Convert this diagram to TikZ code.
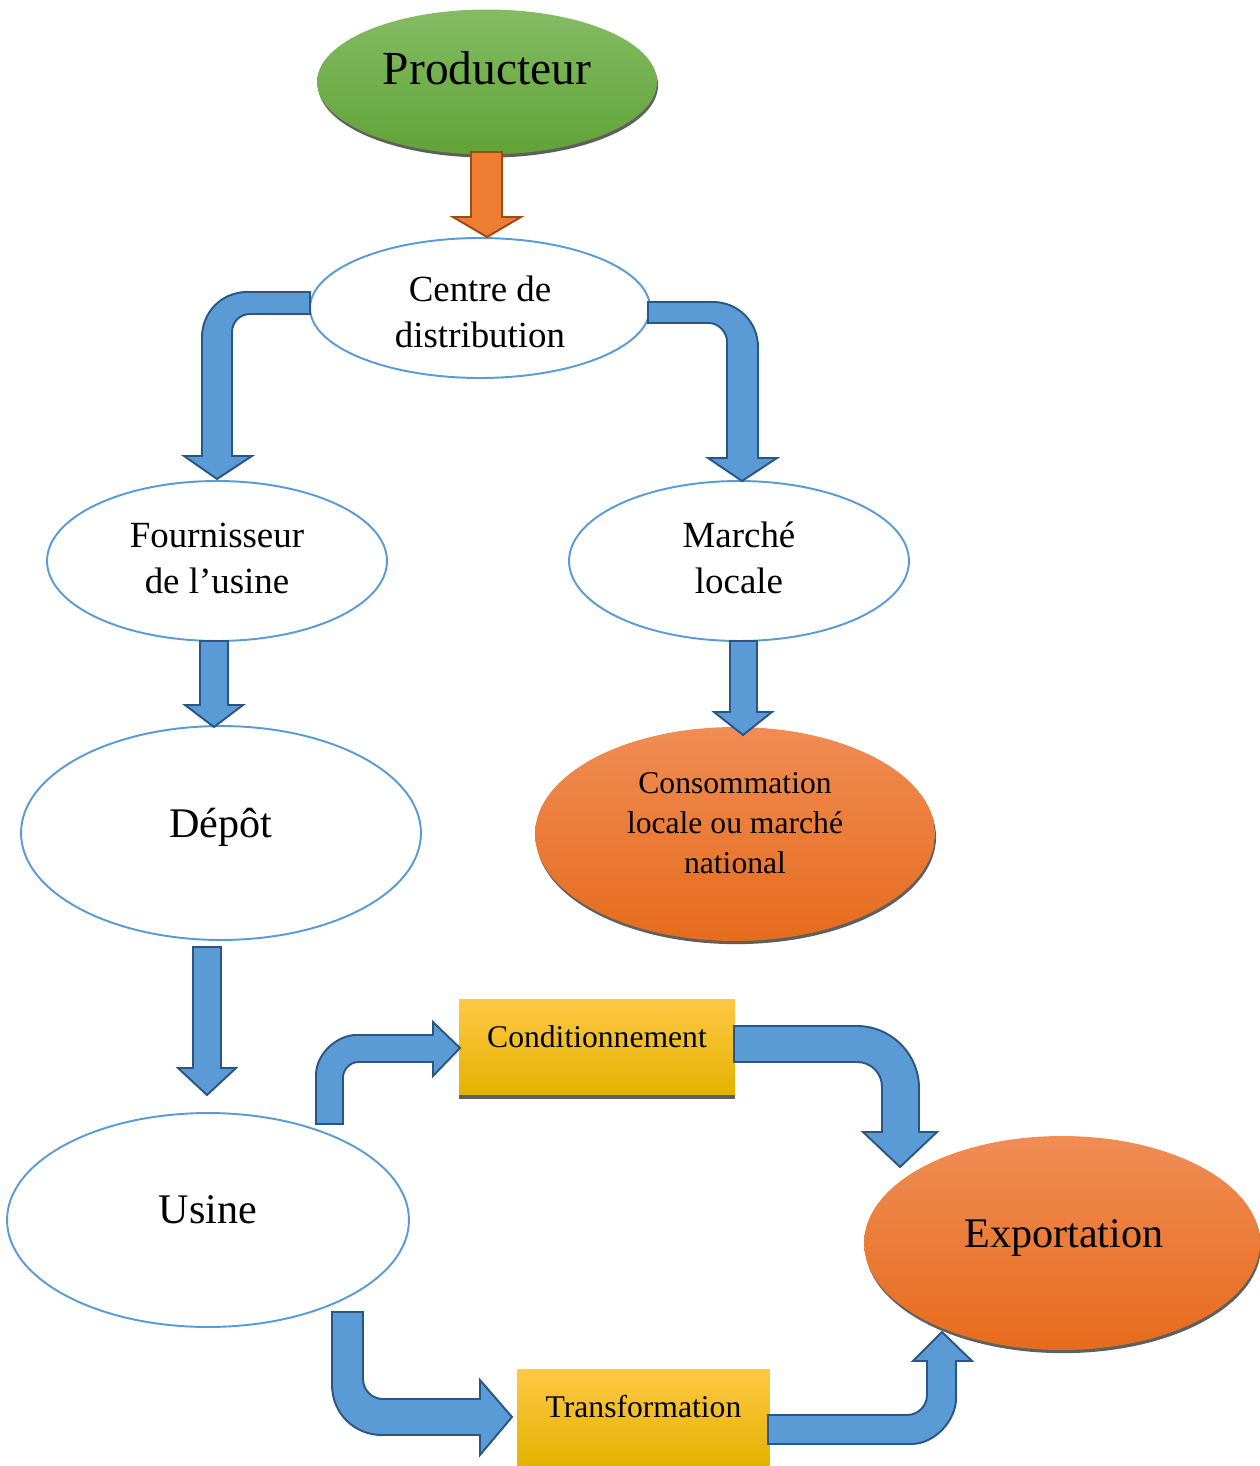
\documentclass[tikz,border=0pt]{standalone}
\usepackage{fontspec}
\setmainfont{Liberation Serif}
\usetikzlibrary{shapes.geometric,shadows}

\definecolor{ellblue}{HTML}{5B9BD5}
\definecolor{arrowblue}{HTML}{5B9BD5}
\definecolor{arrowedge}{HTML}{295684}
\definecolor{orangearrow}{HTML}{ED7D31}
\definecolor{orangeedge}{HTML}{9E4A14}
\definecolor{greentop}{HTML}{84BC64}
\definecolor{greenbot}{HTML}{60A337}
\definecolor{orangetop}{HTML}{F08C55}
\definecolor{orangemid}{HTML}{F47F2A}
\definecolor{orangebot}{HTML}{E66C1C}
\definecolor{goldtop}{HTML}{FFC845}
\definecolor{goldmid}{HTML}{FFC000}
\definecolor{goldbot}{HTML}{E3B300}
\definecolor{shadowgray}{HTML}{5F5F5F}

\tikzset{
  outlineell/.style={ellipse, draw=ellblue, line width=1.1pt, fill=white, inner sep=0pt},
  filledell/.style={ellipse, draw=none, inner sep=0pt,
    general shadow={fill=shadowgray, shadow xshift=0.6pt, shadow yshift=-1.8pt}},
  greenfill/.style={top color=greentop, bottom color=greenbot},
  orangefill/.style={top color=orangetop, middle color=orangemid, bottom color=orangebot},
  goldbox/.style={rectangle, draw=none, inner sep=0pt,
    top color=goldtop, middle color=goldmid, bottom color=goldbot},
  blockarrow/.style={fill=arrowblue, draw=arrowedge, line width=1.1pt, line join=miter},
  orangeblock/.style={fill=orangearrow, draw=orangeedge, line width=1.1pt, line join=miter},
  lbl/.style={anchor=base, align=center, inner sep=0pt},
  big/.style={font=\fontsize{27}{32}\selectfont},
  mid/.style={font=\fontsize{24}{29}\selectfont},
  med/.style={font=\fontsize{21}{26}\selectfont},
  small/.style={font=\fontsize{18}{22.5}\selectfont},
}

\begin{document}
\begin{tikzpicture}[x=0.02cm, y=-0.02cm]
\useasboundingbox (0,0) rectangle (1259,1466);

% ---- ellipses ----
\node[filledell, greenfill, minimum width=6.8cm, minimum height=2.9cm] (prod) at (487,82) {};
\node[outlineell, minimum width=6.8cm, minimum height=2.8cm] (centre) at (480,308) {};
\node[outlineell, minimum width=6.8cm, minimum height=3.2cm] (fourn) at (217,561) {};
\node[outlineell, minimum width=6.8cm, minimum height=3.2cm] (marche) at (739,561) {};
\node[outlineell, minimum width=8.0cm, minimum height=4.28cm] (depot) at (221,833) {};
\node[outlineell, minimum width=8.04cm, minimum height=4.28cm] (usine) at (208,1220) {};
\node[filledell, orangefill, minimum width=8.0cm, minimum height=4.28cm] (conso) at (735,834) {};
\node[filledell, orangefill, minimum width=7.92cm, minimum height=4.28cm] (export) at (1062,1243) {};

% ---- boxes ----
\fill[shadowgray] (459,1094) rectangle (735,1099);
\node[goldbox, minimum width=5.52cm, minimum height=1.9cm] (cond) at (597,1046.5) {};
\node[goldbox, minimum width=5.06cm, minimum height=1.94cm] (trans) at (643.5,1417.5) {};

% ---- labels (anchored on the baseline of the last line) ----
\node[lbl, big] (prodtxt) at (487,85) {Producteur};
\node[lbl, med] (centretxt) at (480,347) {Centre de\\distribution};
\node[lbl, med] (fourntxt) at (217,593) {Fournisseur\\de l’usine};
\node[lbl, med] (marchetxt) at (739,593) {Marché\\locale};
\node[lbl, mid] (depottxt) at (221,837) {Dépôt};
\node[lbl, mid] (usinetxt) at (208,1223) {Usine};
\node[lbl, small] (consotxt) at (735,873) {Consommation\\locale ou marché\\national};
\node[lbl, mid] (exporttxt) at (1064,1247) {Exportation};
\node[lbl, small] (condtxt) at (597,1047) {Conditionnement};
\node[lbl, small] (transtxt) at (643.5,1417) {Transformation};

% ---- straight block arrows ----
% Producteur -> Centre de distribution
\draw[orangeblock] (471,152) -- (471,217) -- (453,217) -- (487,237) -- (521,217)
  -- (502,217) -- (502,152) -- cycle;
% Fournisseur -> Depot
\draw[blockarrow] (200,641) -- (200,705) -- (185,705) -- (214,727) -- (243,705)
  -- (228,705) -- (228,641) -- cycle;
% Marche locale -> Consommation
\draw[blockarrow] (730,641) -- (730,712) -- (714,712) -- (743,735) -- (772,712)
  -- (757,712) -- (757,641) -- cycle;
% Depot -> Usine
\draw[blockarrow] (193,947) -- (193,1068) -- (178,1068) -- (207,1095) -- (236,1068)
  -- (221,1068) -- (221,947) -- cycle;

% ---- bent block arrows ----
% Centre -> Fournisseur (left, then down)
\draw[blockarrow] (310,292) -- (247,292) .. controls (222,292) and (202,312) .. (202,337)
  -- (202,456) -- (184,456) -- (217,479) -- (252,456) -- (232,456)
  -- (232,332) .. controls (232,322) and (240,314) .. (250,314) -- (310,314) -- cycle;
% Centre -> Marche locale (right, then down)
\draw[blockarrow] (648,302) -- (713,302) .. controls (738,302) and (758,322) .. (758,347)
  -- (758,458) -- (777,458) -- (742,481) -- (708,458) -- (727,458)
  -- (727,341) .. controls (727,333) and (719,323) .. (709,323) -- (648,323) -- cycle;
% Usine -> Conditionnement (up, then right)
\draw[blockarrow] (316,1124) -- (316,1075) .. controls (316,1053) and (338,1035) .. (356,1035)
  -- (433,1035) -- (433,1022) -- (460,1048) -- (433,1076) -- (433,1062)
  -- (358,1062) .. controls (350,1062) and (343,1070) .. (343,1077) -- (343,1124) -- cycle;
% Conditionnement -> Exportation (right, then down)
\draw[blockarrow] (734,1026) -- (857,1026) .. controls (891,1026) and (919,1054) .. (919,1088)
  -- (919,1132) -- (937,1132) -- (900,1167) -- (863,1132) -- (882,1132)
  -- (882,1087) .. controls (882,1073) and (871,1062) .. (857,1062) -- (734,1062) -- cycle;
% Usine -> Transformation (down, then right)
\draw[blockarrow] (332,1312) -- (332,1385) .. controls (332,1413) and (354,1435) .. (382,1435)
  -- (480,1435) -- (480,1455) -- (512,1417) -- (480,1380) -- (480,1399)
  -- (383,1399) .. controls (372,1399) and (363,1390) .. (363,1379) -- (363,1312) -- cycle;
% Transformation -> Exportation (right, then up)
\draw[blockarrow] (768,1415) -- (907,1415) .. controls (918,1415) and (927,1406) .. (927,1395)
  -- (927,1361) -- (913,1361) -- (942,1332) -- (972,1361) -- (956,1361)
  -- (956,1399) .. controls (956,1419) and (936,1444) .. (911,1444) -- (768,1444) -- cycle;
\end{tikzpicture}
\end{document}
